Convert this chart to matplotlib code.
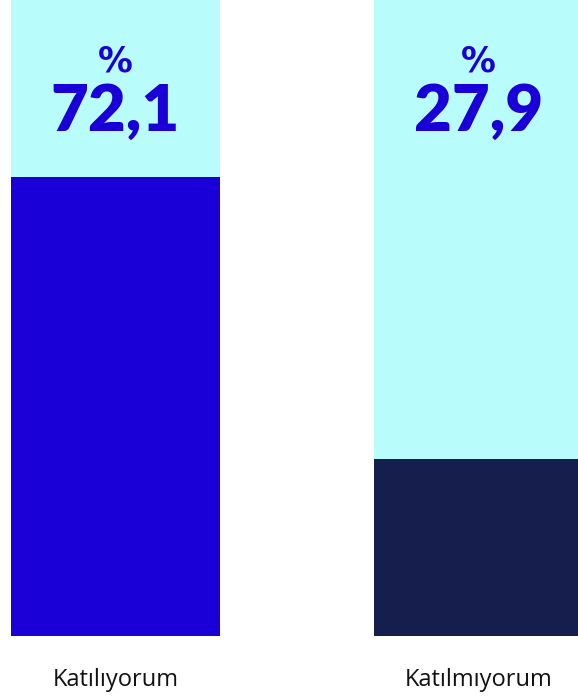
import matplotlib
matplotlib.use("Agg")
import matplotlib.pyplot as plt

categories = ["Katılıyorum", "Katılmıyorum"]
values = [72.1, 27.9]
value_labels = ["72,1", "27,9"]
total = [100, 100]
fill_colors = ["#1A00D6", "#151E4D"]
bg_color = "#B9FCFC"
text_color = "#1A00D6"

fig = plt.figure(figsize=(5.78, 6.99), dpi=100)
ax = fig.add_axes([0, 63/699, 1, 636/699])
x = list(range(len(categories)))
ax.bar(x, total, width=0.576, color=bg_color, linewidth=0)
ax.bar(x, values, width=0.576, color=fill_colors, linewidth=0)
ax.set_xlim(-0.318, 1.274)
ax.set_ylim(0, 100)
ax.axis("off")

for xi, lab in zip(x, value_labels):
    ax.text(xi, 79.45, lab, ha="center", va="baseline", fontsize=47,
            fontweight="heavy", color=text_color, family="Lato")
    ax.text(xi, 88.68, "%", ha="center", va="baseline", fontsize=25,
            fontweight="bold", color=text_color, family="DejaVu Sans")

for xi, c in zip(x, categories):
    ax.text(xi, -7.86, c, ha="center", va="baseline", fontsize=17,
            color="#111111", family="Open Sans", clip_on=False)

fig.savefig("out.png", dpi=100)
